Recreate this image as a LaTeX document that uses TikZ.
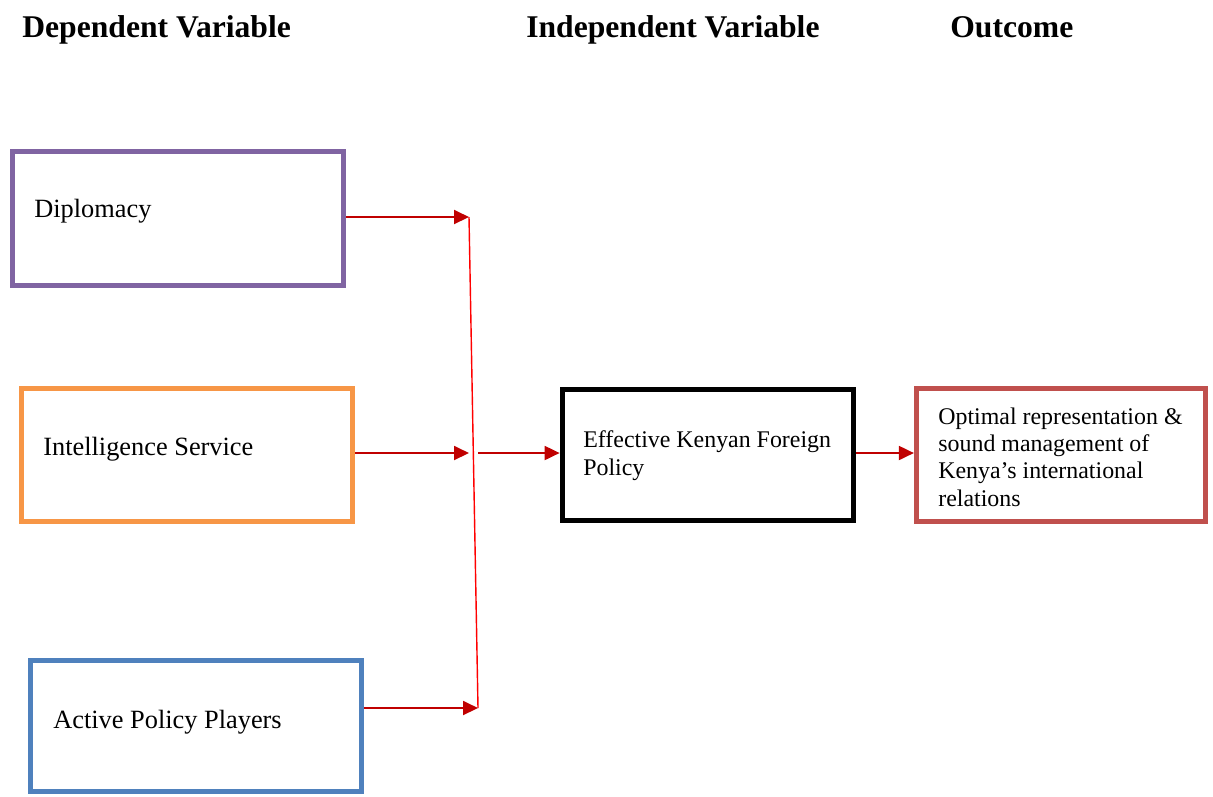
\documentclass[tikz,border=0pt]{standalone}
\usepackage{fontspec}
\setmainfont{Liberation Serif}
\usepackage{tikz}
\usetikzlibrary{arrows.meta}
\definecolor{dipcol}{HTML}{8064A2}
\definecolor{intcol}{HTML}{F79646}
\definecolor{actcol}{HTML}{4F81BD}
\definecolor{outcol}{HTML}{C0504D}
\definecolor{arrcol}{HTML}{C00000}
\begin{document}
\begin{tikzpicture}[x=0.02cm, y=-0.02cm,
  box/.style = {draw, line width=3pt, minimum width=6.62cm, minimum height=2.68cm, inner sep=0},
  lbl/.style = {anchor=base west, inner sep=0, font=\fontsize{15}{18}\selectfont},
  head/.style = {anchor=base west, inner sep=0, font=\fontsize{18}{22}\selectfont\bfseries},
  flow/.style = {arrcol, line width=1.1pt, -{Triangle[length=0.3cm, width=0.28cm]}}]
\useasboundingbox (0,0) rectangle (1213,796);
\node[head] (hdep) at (22, 37) {Dependent Variable};
\node[head] (hind) at (526, 37) {Independent Variable};
\node[head] (hout) at (950, 37) {Outcome};
\node[box, draw=dipcol] (dip) at (178, 218.5) {};
\node[box, draw=intcol, minimum height=2.66cm] (intel) at (187, 455) {};
\node[box, draw=actcol, minimum height=2.62cm] (active) at (196, 726) {};
\node[box, draw=black, line width=3.3pt, minimum width=5.82cm, minimum height=2.62cm] (policy) at (708, 455) {};
\node[box, draw=outcol, minimum width=5.78cm, minimum height=2.66cm] (outc) at (1061, 455) {};
\node[lbl] (tdip) at (34, 217) {Diplomacy};
\node[lbl] (tint) at (43, 455) {Intelligence Service};
\node[lbl] (tact) at (53, 728) {Active Policy Players};
\node[lbl, anchor=west, align=left, font=\fontsize{13.6}{15.9}\selectfont] (tpol) at (583, 456) {Effective Kenyan Foreign\\Policy};
\node[lbl, anchor=west, align=left, font=\fontsize{13.6}{15.6}\selectfont] (tout) at (938, 457) {Optimal representation \&\\sound management of\\Kenya’s international\\relations};
\coordinate (j1) at (469, 217);
\coordinate (j2) at (469, 453);
\coordinate (j3) at (478, 708);
\coordinate (j4) at (478, 453);
\draw[red, line width=0.8pt] (j1) -- (j3);
\draw[flow] (dip.east |- j1) -- (j1);
\draw[flow] (intel.east |- j2) -- (j2);
\draw[flow] (active.east |- j3) -- (j3);
\draw[flow] (j4) -- (policy.west |- j4);
\draw[flow] (policy.east |- j4) -- (outc.west |- j4);
\end{tikzpicture}
\end{document}
